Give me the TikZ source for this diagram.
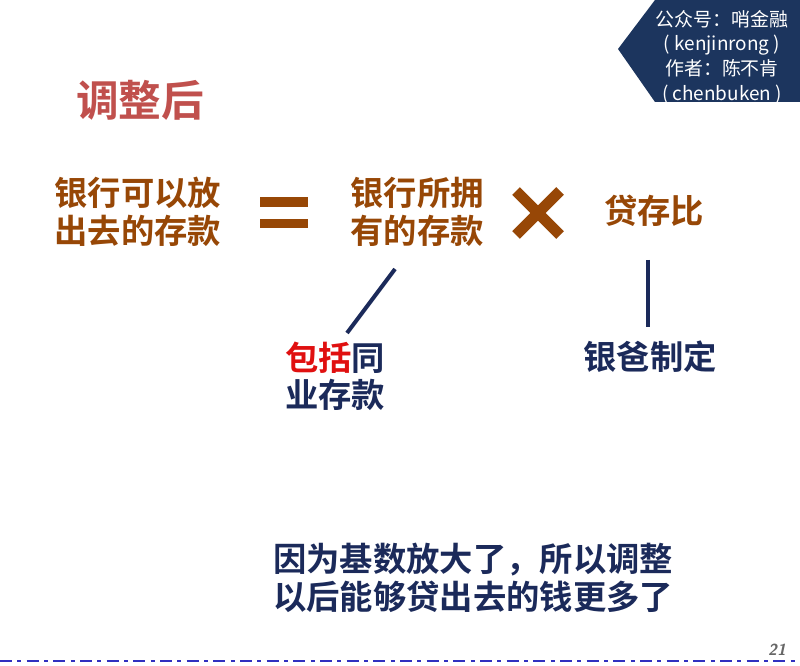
\documentclass[tikz,border=0pt]{standalone}
\usepackage{fontspec}
\newfontfamily\cjk{Noto Sans CJK SC}[BoldFont={Noto Sans CJK SC Bold}]
\definecolor{titlered}{HTML}{C0504D}
\definecolor{brown}{HTML}{974706}
\definecolor{navy}{HTML}{1B2A5A}
\definecolor{banner}{HTML}{1C355E}
\definecolor{hired}{HTML}{E01010}
\definecolor{dashblue}{HTML}{3030C0}
\tikzset{
  big/.style={font=\cjk\bfseries\fontsize{25}{28}\selectfont, inner sep=0pt, align=center},
  browntxt/.style={big, text=brown},
  navytxt/.style={big, text=navy},
  bannertxt/.style={font=\cjk\fontsize{14.2}{18.5}\selectfont, text=white, inner sep=0pt, align=center},
  link/.style={navy, line width=3pt}
}
\begin{document}
\begin{tikzpicture}[x=0.75pt,y=-0.75pt]
\useasboundingbox (0,0) rectangle (800,666);
\fill[white] (0,0) rectangle (800,666);
% banner
\fill[banner] (655,0) -- (800,0) -- (800,102) -- (655,102) -- (618,49) -- cycle;
\node[bannertxt] (ban) at (722,57) {公众号：哨金融\\( kenjinrong )\\作者：陈不肯\\( chenbuken )};
% title
\node[font=\cjk\bfseries\fontsize{32}{36}\selectfont, text=titlered, inner sep=0pt] (title) at (140,100) {调整后};
% equation
\node[browntxt] (lhs) at (138,212) {银行可以放\\出去的存款};
\node[browntxt] (own) at (417,212) {银行所拥\\有的存款};
\node[browntxt] (ratio) at (654,211) {贷存比};
\fill[brown] (260,197) rectangle (308,207);
\fill[brown] (260,219) rectangle (308,228);
\coordinate (xc) at (538,213);
\draw[brown, line width=8pt] ([shift={(-22,-22)}]xc) -- ([shift={(22,22)}]xc);
\draw[brown, line width=8pt] ([shift={(22,-22)}]xc) -- ([shift={(-22,22)}]xc);
% notes
\node[navytxt] (incl) at (335,376) {\textcolor{hired}{包括}同\\业存款};
\node[navytxt] (set) at (650,357) {银爸制定};
\coordinate (s1) at (395,269);
\coordinate (s2) at (347,333);
\draw[link] (s1) -- (s2);
\coordinate (v1) at (648,260);
\coordinate (v2) at (648,327);
\draw[link] (v1) -- (v2);
% conclusion
\node[navytxt, align=left] (concl) at (473,578) {因为基数放大了，所以调整\\以后能够贷出去的钱更多了};
% footer
\node[font=\sffamily\bfseries\itshape\fontsize{12}{14}\selectfont, text=gray!80!black, inner sep=0pt] (pg) at (777,650) {21};
\draw[dashblue, line width=2pt, dash pattern=on 9pt off 4pt on 3pt off 4pt] (0,661) -- (800,661);
\end{tikzpicture}
\end{document}
